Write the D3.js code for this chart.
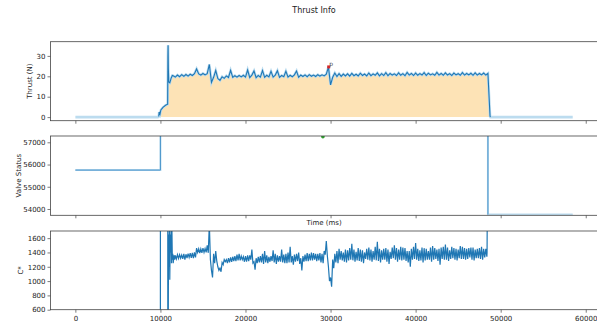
<!DOCTYPE html>
<html>
<head>
<meta charset="utf-8">
<script src="https://cdn.jsdelivr.net/npm/d3@7"></script>
<style>
  body { margin: 0; background: #fff; }
  svg { display: block; font-family: "DejaVu Sans", sans-serif; }
</style>
</head>
<body>
<svg id="chart" width="597" height="325"></svg>
<script>
// ---- data ----
const timeTicks = [0, 10000, 20000, 30000, 40000, 50000, 60000];
const thrustTicks = [0, 10, 20, 30];
const valveTicks = [54000, 55000, 56000, 57000];
const cstarTicks = [600, 800, 1000, 1200, 1400, 1600];

const thrustStart = [[0, 0], [9700, 0], [9800, 0.3], [9850, 2.5], [9950, 1.5], [10050, 3.5], [10300, 4.8],
  [10600, 5.8], [10850, 6.3], [10880, 30], [10900, 35.2], [10930, 24], [10980, 17.2], [11100, 16.8],
  [11250, 19.0], [11400, 20.4]];
const thrustPlateauT0 = 11500;
const thrustPlateauStep = 250;
const thrustPlateau = [
  20.3, 19.6, 20.6, 19.8, 20.8, 20.0, 20.9, 20.1, 21.0, 20.4, 21.3, 23.6, 21.2, 20.6, 21.4, 20.7,
  21.3, 25.8, 17.0, 19.5, 22.8, 18.9, 18.0, 19.8, 19.0, 20.2, 19.4, 22.9, 19.5, 20.3, 19.6, 20.4,
  19.7, 20.5, 19.6, 23.1, 19.4, 20.6, 22.6, 19.3, 20.4, 19.6, 22.8, 19.5, 20.5, 19.7, 22.4, 19.6,
  20.6, 22.7, 19.5, 20.4, 19.8, 22.5, 19.6, 20.5, 19.8, 20.7, 22.6, 19.5, 20.6, 19.9, 20.7, 19.8,
  20.8, 20.0, 20.6, 19.9, 20.8, 20.1, 20.7, 20.2, 21.0, 24.5, 15.8, 19.5, 21.6, 19.9, 21.3, 20.0,
  21.1, 20.2, 21.2, 20.1, 21.4, 20.3, 21.0, 20.2, 21.5, 20.4, 21.1, 20.2, 21.6, 20.3, 21.2, 20.5,
  21.7, 20.2, 21.3, 20.4, 21.8, 20.3, 21.4, 20.6, 21.2, 20.4, 21.7, 20.5, 21.3, 20.3, 21.9, 20.6,
  21.4, 20.4, 21.6, 20.5, 21.3, 20.6, 21.8, 20.4, 21.5, 20.7, 21.2, 20.5, 21.9, 20.6, 21.4, 20.5,
  21.7, 20.6, 21.3, 20.4, 21.6, 20.7, 21.3, 20.5, 21.8, 20.6, 21.4, 20.7, 21.5, 20.5, 21.7, 20.6,
  21.4, 20.7, 21.6, 20.6, 21.4
];
const thrustEnd = [[48750, 0.4], [48800, 0], [58470, 0]];
const thrustNote = [29780, 24.6];

const valveSteps = [[0, 55750], [10000, 55750], [10000, 65535], [48500, 65535], [48500, 53750], [58470, 53750]];
const valveYLim = [53716, 57284];
const valveNote = [29100, 57250];

const cstarStart = [[9990, -2000], [10000, 4000], [10860, 4000], [10870, -2000], [10950, 1650], [11000, 1200],
  [11050, 1750], [11100, 1020], [11150, 1650], [11200, 1400], [11250, 1750], [11300, 1250], [11350, 1720],
  [11400, 1300], [11450, 1380], [11500, 1250], [11600, 1360], [11680, 1300]];
const cstarT0 = 11750;
const cstarStep = 250;
// per 250 ms: the high sample, then the low sample 125 ms later
const cstarHigh = [
  1360, 1370, 1370, 1365, 1380, 1375, 1385, 1390, 1395, 1400, 1460, 1450, 1450, 1460, 1455, 1500,
  1800, 1150,
  1380, 1420, 1200, 1180, 1260, 1300, 1300, 1320, 1330, 1340, 1350, 1370, 1380, 1350, 1340, 1350, 1360, 1360,
  1440, 1270, 1320, 1340, 1350, 1380, 1420, 1360, 1340, 1350, 1430, 1380, 1360, 1350, 1440, 1370,
  1380, 1400, 1480, 1350, 1370, 1380, 1400, 1320, 1350, 1370, 1390, 1380, 1400, 1390, 1380, 1380,
  1390, 1380, 1420, 1560, 1200, 1050, 1300, 1380, 1420,
  1450, 1420, 1400, 1440, 1430, 1460, 1520, 1440, 1410, 1460,
  1440, 1430, 1400, 1450, 1470, 1440, 1420, 1480, 1550, 1450,
  1430, 1450, 1460, 1440, 1410, 1470, 1500, 1460, 1440, 1480,
  1470, 1460, 1420, 1420, 1450, 1480, 1530, 1450, 1430, 1470,
  1460, 1450, 1420, 1470, 1490, 1460, 1440, 1450, 1470, 1480,
  1510, 1470, 1430, 1480, 1460, 1450, 1440, 1490, 1480, 1460,
  1450, 1460, 1470, 1470, 1440, 1450, 1460, 1480, 1450, 1450,
  1420, 1420
];
const cstarLow = [
  1310, 1315, 1320, 1310, 1300, 1320, 1330, 1325, 1320, 1330, 1400, 1390, 1395, 1400, 1400, 1395,
  1300, 1050,
  1250, 1280, 1150, 1130, 1230, 1270, 1250, 1260, 1270, 1280, 1280, 1290, 1290, 1300, 1270, 1270, 1280, 1300,
  1250, 1160, 1250, 1260, 1260, 1240, 1260, 1250, 1270, 1280, 1260, 1240, 1270, 1270, 1260, 1250,
  1250, 1260, 1260, 1230, 1270, 1280, 1240, 1150, 1270, 1280, 1280, 1290, 1290, 1300, 1280, 1290,
  1260, 1250, 1370, 1350, 1000, 920, 1180, 1260, 1250,
  1300, 1290, 1270, 1260, 1290, 1300, 1290, 1270, 1290, 1280,
  1270, 1250, 1310, 1300, 1290, 1270, 1300, 1290, 1280, 1260,
  1300, 1300, 1270, 1240, 1310, 1320, 1300, 1270, 1300, 1290,
  1300, 1280, 1260, 1200, 1300, 1310, 1300, 1280, 1290, 1260,
  1290, 1300, 1300, 1270, 1300, 1310, 1280, 1230, 1310, 1300,
  1300, 1280, 1310, 1320, 1300, 1290, 1320, 1310, 1310, 1300,
  1310, 1330, 1300, 1290, 1320, 1320, 1310, 1300, 1330, 1340,
  1340, 1360
];
const cstarEnd = [[48400, 1400], [48500, 4000]];
const cstarYLim = [600, 1700];

// ---- assemble series ----
const thrust = thrustStart
  .concat(thrustPlateau.map((v, i) => [thrustPlateauT0 + i * thrustPlateauStep, v]))
  .concat(thrustEnd);
const thrustBurn = thrust.filter((d) => d[0] >= 9800 && d[0] <= 48800);
const cstarBody = cstarHigh.flatMap((v, i) => [
  [cstarT0 + i * cstarStep, v],
  [cstarT0 + cstarStep / 2 + i * cstarStep, cstarLow[i]]
]).filter((d) => d[0] < 48400);
const cstar = cstarStart.concat(cstarBody).concat(cstarEnd);

// ---- layout ----
const svg = d3.select('#chart');
const plotLeft = 50.5;
const plotRight = 597.6;
const panels = [
  { top: 41.7, bottom: 120.7 },
  { top: 136, bottom: 215.3 },
  { top: 231, bottom: 309.7 }
];

const tExtent = d3.extent(thrust, (d) => d[0]);
const tPad = (tExtent[1] - tExtent[0]) * 0.05;
const x = d3.scaleLinear().domain([tExtent[0] - tPad, tExtent[1] + tPad]).range([plotLeft, plotRight]);

const fExtent = d3.extent(thrust, (d) => d[1]);
const fPad = (fExtent[1] - fExtent[0]) * 0.05;
const yThrust = d3.scaleLinear().domain([fExtent[0] - fPad, fExtent[1] + fPad]).range([panels[0].bottom, panels[0].top]);
const yValve = d3.scaleLinear().domain(valveYLim).range([panels[1].bottom, panels[1].top]);
const yCstar = d3.scaleLinear().domain(cstarYLim).range([panels[2].bottom, panels[2].top]);

svg.append('text')
  .attr('x', 314).attr('y', 12.5)
  .attr('text-anchor', 'middle')
  .attr('font-size', 8).attr('fill', '#222')
  .text('Thrust Info');

function panel(i, y, ticks, label, labelX, showTimeLabels) {
  const p = panels[i];
  const g = svg.append('g');
  const clipId = 'clip' + i;
  g.append('clipPath').attr('id', clipId)
    .append('rect')
    .attr('x', plotLeft).attr('y', p.top)
    .attr('width', plotRight - plotLeft).attr('height', p.bottom - p.top);

  const yAxis = g.append('g')
    .attr('transform', `translate(${plotLeft},0)`)
    .call(d3.axisLeft(y).tickValues(ticks).tickFormat(d3.format('d')).tickSize(3).tickPadding(2));
  const xAxis = g.append('g')
    .attr('transform', `translate(0,${p.bottom})`)
    .call(d3.axisBottom(x).tickValues(timeTicks).tickFormat(showTimeLabels ? d3.format('d') : '').tickSize(3).tickPadding(3));
  [yAxis, xAxis].forEach((a) => {
    a.select('.domain').remove();
    a.selectAll('line').attr('stroke', '#444').attr('stroke-width', 0.7);
    a.selectAll('text').attr('font-size', 7).attr('fill', '#222').attr('font-family', '"DejaVu Sans", sans-serif');
  });

  g.append('text')
    .attr('transform', `translate(${labelX},${(p.top + p.bottom) / 2}) rotate(-90)`)
    .attr('text-anchor', 'middle')
    .attr('font-size', 7).attr('fill', '#222')
    .text(label);

  const plot = g.append('g').attr('clip-path', `url(#${clipId})`);
  return { g, plot, p };
}

const line = (y) => d3.line().x((d) => x(d[0])).y((d) => y(d[1]));

// thrust
const a = panel(0, yThrust, thrustTicks, 'Thrust (N)', 32, false);
a.plot.append('path')
  .datum(thrustBurn)
  .attr('fill', '#fde3b6')
  .attr('d', d3.area().x((d) => x(d[0])).y0(yThrust(0)).y1((d) => yThrust(d[1])));
a.plot.append('path').datum(thrust)
  .attr('fill', 'none').attr('stroke', '#bcdcef').attr('stroke-width', 2.6).attr('d', line(yThrust));
a.plot.append('path').datum(thrustBurn)
  .attr('fill', 'none').attr('stroke', '#1f77b4').attr('stroke-width', 1.1).attr('d', line(yThrust));
a.plot.append('rect')
  .attr('x', x(thrustNote[0]) - 1.5).attr('y', yThrust(thrustNote[1]) - 1.5)
  .attr('width', 3).attr('height', 3).attr('fill', '#d62728');
a.plot.append('text')
  .attr('x', x(thrustNote[0]) + 0.5).attr('y', yThrust(thrustNote[1]) - 0.5)
  .attr('font-size', 6).attr('fill', '#444').text('p');

// valve
const b = panel(1, yValve, valveTicks, 'Valve Status', 21, false);
b.plot.append('path').datum(valveSteps)
  .attr('fill', 'none').attr('stroke', '#bcdcef').attr('stroke-width', 2).attr('d', line(yValve));
b.plot.append('path').datum(valveSteps.slice(0, 5))
  .attr('fill', 'none').attr('stroke', '#4a94cb').attr('stroke-width', 1).attr('d', line(yValve));
b.plot.append('circle')
  .attr('cx', x(valveNote[0])).attr('cy', yValve(valveNote[1]))
  .attr('r', 1.8).attr('fill', '#2ca02c');
b.g.append('text')
  .attr('x', (plotLeft + plotRight) / 2).attr('y', 224.5)
  .attr('text-anchor', 'middle')
  .attr('font-size', 7).attr('fill', '#222')
  .text('Time (ms)');

// c*
const c = panel(2, yCstar, cstarTicks, 'C*', 23, true);
c.plot.append('path').datum(cstar)
  .attr('fill', 'none').attr('stroke', '#1f77b4').attr('stroke-width', 1.2)
  .attr('d', line(yCstar));

// spines on top
panels.forEach((p) => {
  svg.append('rect')
    .attr('x', plotLeft).attr('y', p.top)
    .attr('width', plotRight - plotLeft).attr('height', p.bottom - p.top)
    .attr('fill', 'none').attr('stroke', '#444').attr('stroke-width', 0.8);
});
</script>
</body>
</html>
